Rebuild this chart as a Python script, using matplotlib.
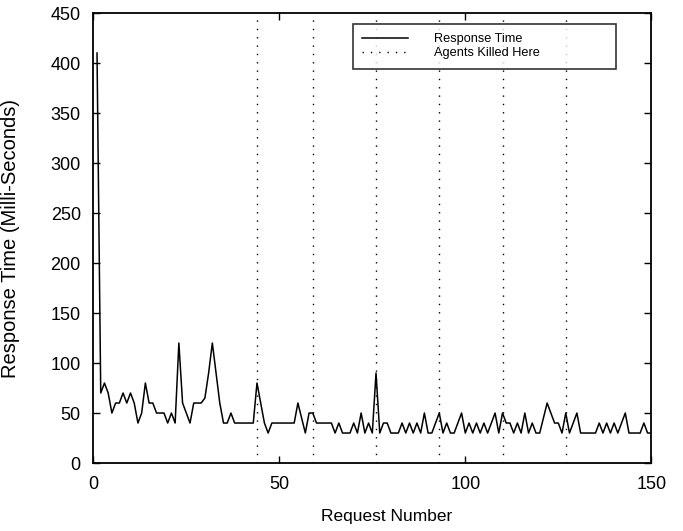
import matplotlib
matplotlib.use("Agg")
import matplotlib.pyplot as plt

# Response time per request (ms)
request = list(range(1, 151))
response_ms = [
    410, 70, 80, 70, 50, 60, 60, 70, 60, 70,
    60, 40, 50, 80, 60, 60, 50, 50, 50, 40,
    50, 40, 120, 60, 50, 40, 60, 60, 60, 65,
    90, 120, 90, 60, 40, 40, 50, 40, 40, 40,
    40, 40, 40, 80, 60, 40, 30, 40, 40, 40,
    40, 40, 40, 40, 60, 45, 30, 50, 50, 40,
    40, 40, 40, 40, 30, 40, 30, 30, 30, 40,
    30, 50, 30, 40, 30, 90, 30, 40, 40, 30,
    30, 30, 40, 30, 40, 30, 40, 30, 50, 30,
    30, 40, 50, 30, 40, 30, 30, 40, 50, 30,
    40, 30, 40, 30, 40, 30, 40, 50, 30, 50,
    40, 40, 30, 40, 30, 50, 30, 40, 30, 30,
    45, 60, 50, 40, 40, 30, 50, 30, 40, 50,
    30, 30, 30, 30, 30, 40, 30, 40, 30, 40,
    30, 40, 50, 30, 30, 30, 30, 40, 30, 30,
]

# requests at which agents were killed
kill_points = [44, 59, 76, 93, 110, 127]

plt.rcParams['font.family'] = ['Liberation Sans', 'DejaVu Sans']

fig = plt.figure(figsize=(6.83, 5.31), dpi=100)
ax = fig.add_axes([0.1366, 0.128, 0.817, 0.8475])

ax.plot(request, response_ms, color='black', lw=1.1, label='Response Time')
for i, k in enumerate(kill_points):
    ax.axvline(k, color='black', lw=1.0, linestyle=(0, (1, 5)),
               label='Agents Killed Here' if i == 0 else None)

ax.set_xlim(0, 150)
ax.set_ylim(0, 450)
ax.set_xticks([0, 50, 100, 150])
ax.set_yticks(range(0, 451, 50))
ax.tick_params(direction='in', length=5, width=1, top=True, right=True,
               labelsize=13, pad=9, colors='black')
for s in ax.spines.values():
    s.set_linewidth(1.3)

ax.set_xlabel('Request Number', fontsize=12.5)
ax.set_ylabel('Response Time (Milli-Seconds)', fontsize=14.5)
ax.xaxis.set_label_coords(0.526, -0.102)
ax.yaxis.set_label_coords(-0.131, 0.5)

leg = ax.legend(loc='upper left', bbox_to_anchor=(0.465, 0.891, 0.472, 0.085),
                mode='expand', fontsize=9.2, handlelength=3.6, handletextpad=2.0,
                frameon=True, fancybox=False, borderpad=0.75, labelspacing=0.15,
                borderaxespad=0)
leg.get_frame().set_edgecolor('black')
leg.get_frame().set_linewidth(1.2)

fig.savefig('out.png', dpi=100)
